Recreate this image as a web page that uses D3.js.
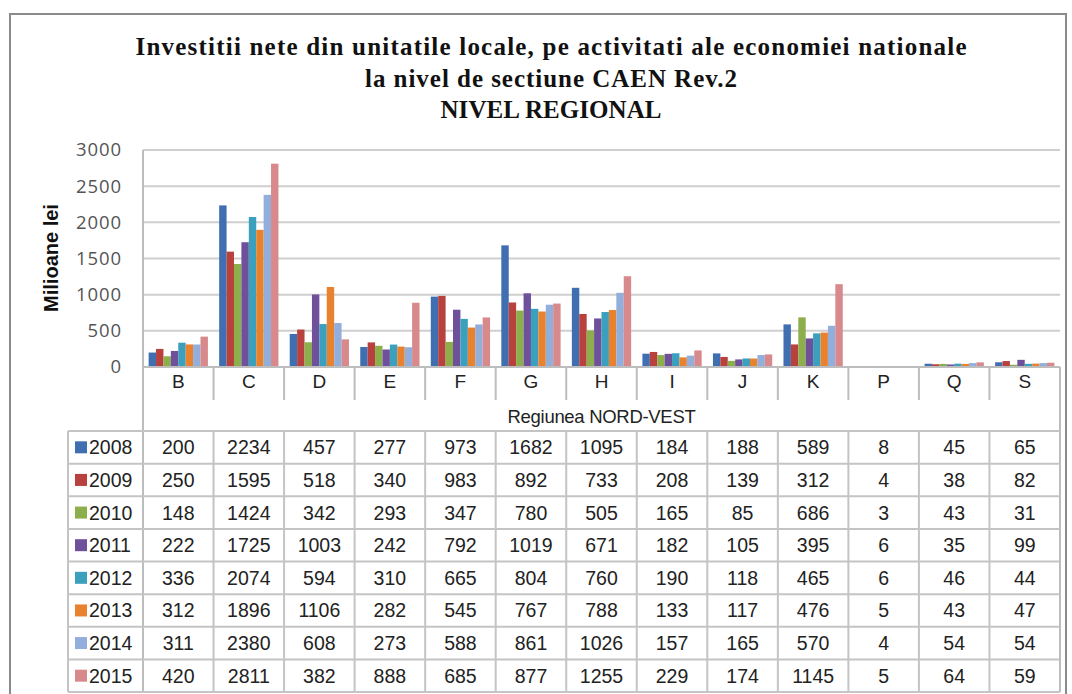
<!DOCTYPE html>
<html>
<head>
<meta charset="utf-8">
<script src="https://cdn.jsdelivr.net/npm/d3@7"></script>
<style>
html,body{margin:0;padding:0;background:#fff;}
svg{display:block;}
</style>
</head>
<body>
<svg id="chart" width="1072" height="694"></svg>
<script>
const categories = ["B","C","D","E","F","G","H","I","J","K","P","Q","S"];
const years = ["2008","2009","2010","2011","2012","2013","2014","2015"];
const v2008 = [200,2234,457,277,973,1682,1095,184,188,589,8,45,65];
const v2009 = [250,1595,518,340,983,892,733,208,139,312,4,38,82];
const v2010 = [148,1424,342,293,347,780,505,165,85,686,3,43,31];
const v2011 = [222,1725,1003,242,792,1019,671,182,105,395,6,35,99];
const v2012 = [336,2074,594,310,665,804,760,190,118,465,6,46,44];
const v2013 = [312,1896,1106,282,545,767,788,133,117,476,5,43,47];
const v2014 = [311,2380,608,273,588,861,1026,157,165,570,4,54,54];
const v2015 = [420,2811,382,888,685,877,1255,229,174,1145,5,64,59];
const yTicks = [0,500,1000,1500,2000,2500,3000];
const titleLines = ["Investitii nete din unitatile locale, pe activitati ale economiei nationale","la nivel de sectiune CAEN Rev.2","NIVEL REGIONAL"];
const yLabel = "Milioane lei";
const xTitle = "Regiunea NORD-VEST";
const colors = ["#3F6FB0","#B8403D","#8CAE4B","#6E519A","#3AA0BE","#E8822F","#92AEDB","#D8898B"];

const seriesValues = [v2008,v2009,v2010,v2011,v2012,v2013,v2014,v2015];
const series = years.map((y,i)=>({year:y, values:seriesValues[i], color:colors[i]}));

const svg = d3.select("#chart");
const L = 143, R = 1060, T = 150, B0 = 367;
const tableTop = 431, tableBottom = 692, labelLeft = 68;
const grid = "#cfcfcf";

// outer border
svg.append("rect").attr("x",10).attr("y",14).attr("width",1056).attr("height",700)
  .attr("fill","none").attr("stroke","#8a8a8a").attr("stroke-width",2);

// title
const titleLens = [831, 372, 221];
const title = svg.append("text").attr("text-anchor","middle")
  .attr("font-family","'Liberation Serif','Times New Roman',serif")
  .attr("font-weight","bold").attr("font-size",25).attr("fill","#111");
titleLines.forEach((t,i)=>{
  title.append("tspan").attr("x",551).attr("y",55+i*31.5)
    .attr("textLength",titleLens[i]).attr("lengthAdjust","spacing").text(t);
});

const x0 = d3.scaleBand().domain(categories).range([L,R]).paddingInner(0).paddingOuter(0);
const x1 = d3.scaleBand().domain(years).range([0,x0.bandwidth()]).paddingInner(0).paddingOuter(0.76);
const y = d3.scaleLinear().domain([0,3000]).range([B0,T]);

// gridlines
svg.append("g").selectAll("line").data(yTicks.filter(d=>d>0)).join("line")
  .attr("x1",L).attr("x2",R).attr("y1",d=>y(d)).attr("y2",d=>y(d))
  .attr("stroke",grid).attr("stroke-width",2);

// y axis
const yAxis = svg.append("g").attr("transform",`translate(${L},0)`)
  .call(d3.axisLeft(y).tickValues(yTicks).tickFormat(d3.format("d")).tickSize(0).tickPadding(21));
yAxis.select(".domain").remove();
yAxis.selectAll("text").attr("font-family","'Open Sans',sans-serif").attr("font-size",18.5)
  .attr("fill","#555").attr("letter-spacing","0.9px");

svg.append("text").attr("transform",`translate(58,258) rotate(-90)`).attr("text-anchor","middle")
  .attr("font-family","'Liberation Sans',Arial,sans-serif").attr("font-weight","bold")
  .attr("font-size",20).attr("fill","#111").text(yLabel);

// bars
const gBars = svg.append("g");
series.forEach(s=>{
  gBars.append("g").attr("fill",s.color).selectAll("rect").data(categories.map((c,i)=>({c,v:s.values[i]}))).join("rect")
    .attr("x",d=>x0(d.c)+x1(s.year)).attr("width",x1.bandwidth())
    .attr("y",d=>y(d.v)).attr("height",d=>B0-y(d.v));
});

// axis baseline
svg.append("line").attr("x1",L).attr("x2",R).attr("y1",B0).attr("y2",B0).attr("stroke","#bdbdbd").attr("stroke-width",2);
svg.append("line").attr("x1",L).attr("x2",L).attr("y1",T).attr("y2",tableBottom).attr("stroke","#bdbdbd").attr("stroke-width",2);
svg.append("line").attr("x1",R).attr("x2",R).attr("y1",B0).attr("y2",tableBottom).attr("stroke","#bdbdbd").attr("stroke-width",2);
svg.append("g").selectAll("line").data(categories.slice(1)).join("line")
  .attr("x1",d=>x0(d)).attr("x2",d=>x0(d)).attr("y1",B0).attr("y2",400)
  .attr("stroke","#bdbdbd").attr("stroke-width",2);

// category labels
const font = "'Liberation Sans',Arial,sans-serif";
svg.append("g").selectAll("text").data(categories).join("text")
  .attr("x",d=>x0(d)+x0.bandwidth()/2).attr("y",388).attr("text-anchor","middle")
  .attr("font-family",font).attr("font-size",19).attr("fill","#222").text(d=>d);

svg.append("text").attr("x",(L+R)/2).attr("y",423).attr("text-anchor","middle")
  .attr("font-family",font).attr("font-size",18.5).attr("fill","#222").attr("letter-spacing","-0.3px").text(xTitle);

// table
const rowH = (tableBottom-tableTop)/years.length;
const rowY = d3.scaleBand().domain(years).range([tableTop,tableBottom]);
const tg = svg.append("g");
tg.selectAll("line.h").data(d3.range(years.length+1)).join("line").attr("class","h")
  .attr("x1",labelLeft).attr("x2",R).attr("y1",i=>tableTop+i*rowH).attr("y2",i=>tableTop+i*rowH)
  .attr("stroke","#c4c4c4").attr("stroke-width",2);
tg.selectAll("line.v").data(categories.slice(1)).join("line").attr("class","v")
  .attr("x1",d=>x0(d)).attr("x2",d=>x0(d)).attr("y1",tableTop).attr("y2",tableBottom)
  .attr("stroke","#c4c4c4").attr("stroke-width",2);
tg.append("line").attr("x1",labelLeft).attr("x2",labelLeft).attr("y1",tableTop).attr("y2",tableBottom)
  .attr("stroke","#c4c4c4").attr("stroke-width",2);

series.forEach(s=>{
  const yy = rowY(s.year)+rowY.bandwidth()/2;
  tg.append("rect").attr("x",75).attr("y",yy-6).attr("width",12).attr("height",12).attr("fill",s.color);
  tg.append("text").attr("x",89).attr("y",yy+7).attr("font-family",font).attr("font-size",19.5)
    .attr("fill","#222").text(s.year);
  tg.append("g").selectAll("text").data(categories.map((c,i)=>({c,v:s.values[i]}))).join("text")
    .attr("x",d=>x0(d.c)+x0.bandwidth()/2).attr("y",yy+7).attr("text-anchor","middle")
    .attr("font-family",font).attr("font-size",19.5).attr("fill","#222").text(d=>d.v);
});
</script>
</body>
</html>
